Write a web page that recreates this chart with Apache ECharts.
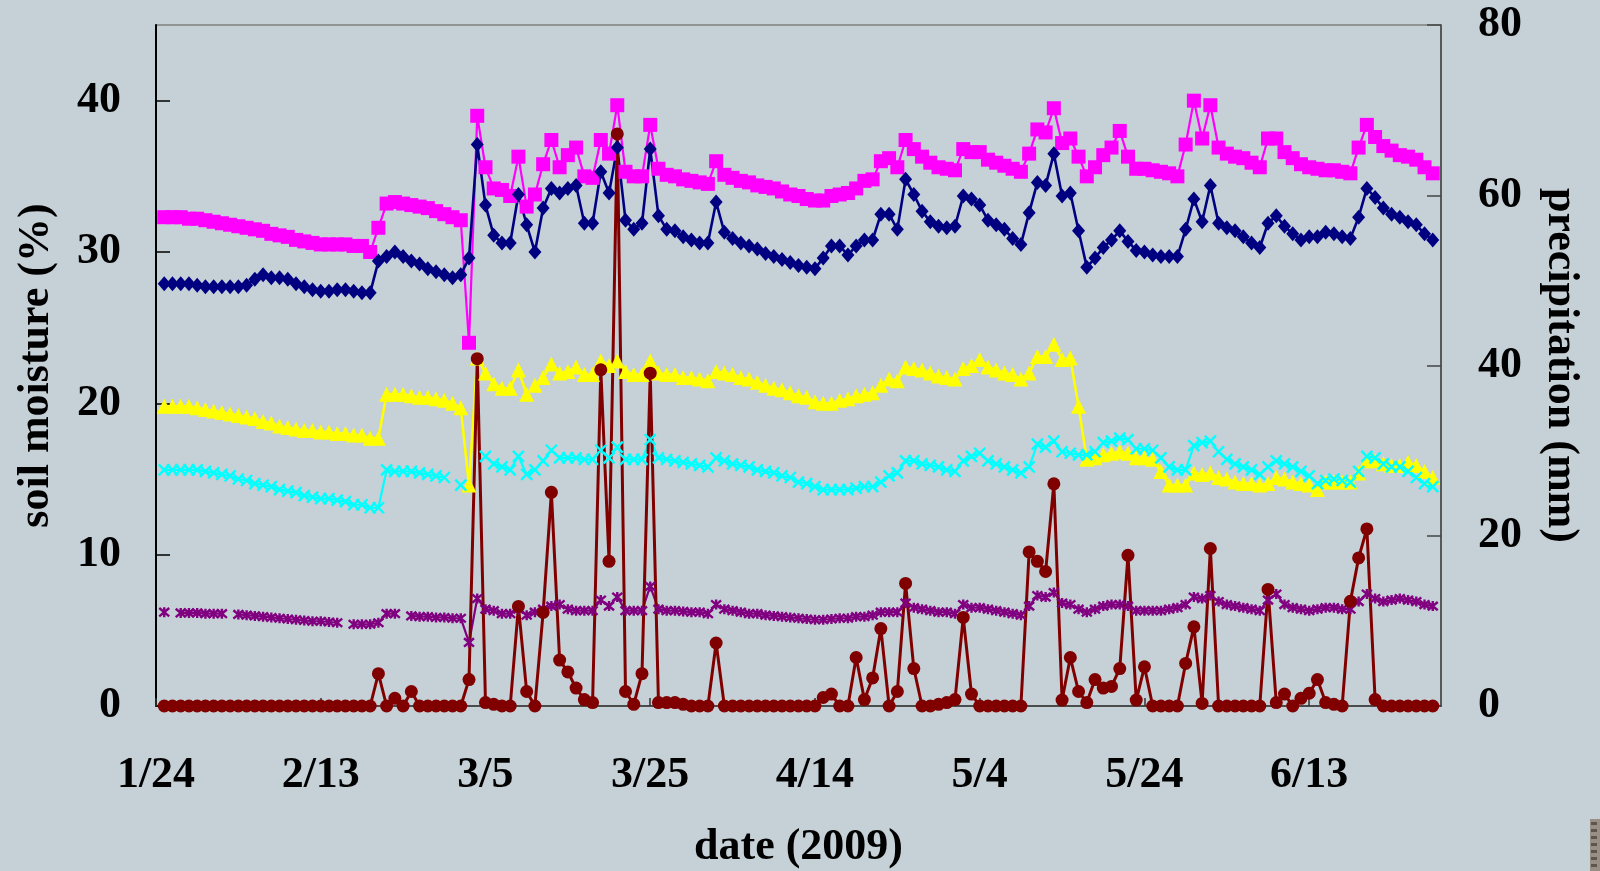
<!DOCTYPE html>
<html>
<head>
<meta charset="utf-8">
<title>Soil moisture and precipitation, 2009</title>
<script src="https://cdn.jsdelivr.net/npm/echarts@6/dist/echarts.min.js"></script>
<style>
  html, body { margin: 0; padding: 0; background: #c5d0d7; }
  #chart { width: 1600px; height: 871px; }
</style>
</head>
<body>
<div id="chart"></div>
<script>
// Daily readings from 1/25 to 6/28 (2009); the date axis runs 1/24 .. 6/29.
const axisStart = [2009, 0, 24];
const axisDays = 157;

// soil moisture (%), five sensors
const moistureA = [ // magenta squares
  32.3, 32.3, 32.3, 32.2, 32.2, 32.1, 32.0, 31.9, 31.8, 31.7,
  31.6, 31.5, 31.4, 31.2, 31.1, 31.0, 30.8, 30.7, 30.6, 30.5,
  30.5, 30.5, 30.5, 30.4, 30.4, 30.0, 31.6, 33.2, 33.3, 33.2,
  33.1, 33.0, 32.9, 32.7, 32.5, 32.3, 32.1, 24.0, 39.0, 35.6,
  34.2, 34.1, 33.7, 36.3, 33.0, 33.8, 35.8, 37.4, 35.6, 36.4,
  36.9, 35.0, 34.9, 37.4, 36.5, 39.7, 35.3, 35.0, 35.0, 38.4,
  35.5, 35.1, 35.0, 34.8, 34.7, 34.6, 34.5, 36.0, 35.1, 34.9,
  34.7, 34.6, 34.4, 34.3, 34.2, 34.0, 33.8, 33.7, 33.5, 33.4,
  33.4, 33.7, 33.8, 33.9, 34.2, 34.7, 34.8, 36.0, 36.2, 35.6,
  37.4, 36.8, 36.3, 35.9, 35.6, 35.5, 35.4, 36.8, 36.6, 36.6,
  36.1, 35.9, 35.7, 35.5, 35.3, 36.5, 38.1, 37.9, 39.5, 37.2,
  37.5, 36.3, 35.0, 35.6, 36.4, 36.9, 38.0, 36.3, 35.5, 35.5,
  35.4, 35.3, 35.2, 35.0, 37.1, 40.0, 37.5, 39.7, 36.9, 36.5,
  36.3, 36.2, 35.9, 35.6, 37.5, 37.5, 36.6, 36.2, 35.8, 35.6,
  35.5, 35.4, 35.4, 35.3, 35.2, 36.9, 38.4, 37.6, 37.0, 36.7,
  36.4, 36.3, 36.1, 35.6, 35.2
];
const moistureB = [ // navy diamonds
  27.9, 27.9, 27.9, 27.9, 27.8, 27.7, 27.7, 27.7, 27.7, 27.7,
  27.8, 28.2, 28.5, 28.3, 28.3, 28.2, 27.9, 27.7, 27.5, 27.4,
  27.4, 27.5, 27.5, 27.4, 27.3, 27.3, 29.4, 29.7, 30.0, 29.7,
  29.4, 29.2, 28.9, 28.7, 28.5, 28.3, 28.5, 29.6, 37.1, 33.1,
  31.1, 30.6, 30.6, 33.8, 31.8, 30.0, 32.9, 34.2, 33.9, 34.2,
  34.4, 31.9, 31.9, 35.3, 33.9, 36.9, 32.1, 31.5, 31.9, 36.8,
  32.4, 31.5, 31.4, 31.0, 30.8, 30.6, 30.6, 33.3, 31.3, 30.9,
  30.6, 30.4, 30.2, 29.9, 29.7, 29.5, 29.3, 29.1, 29.0, 28.9,
  29.6, 30.4, 30.4, 29.8, 30.4, 30.8, 30.8, 32.5, 32.5, 31.5,
  34.8, 33.8, 32.7, 32.0, 31.7, 31.6, 31.7, 33.7, 33.5, 33.1,
  32.1, 31.8, 31.5, 30.9, 30.5, 32.6, 34.6, 34.4, 36.5, 33.7,
  33.9, 31.4, 29.0, 29.6, 30.3, 30.8, 31.4, 30.7, 30.1, 30.0,
  29.8, 29.7, 29.7, 29.7, 31.5, 33.5, 32.0, 34.4, 31.9, 31.6,
  31.4, 31.0, 30.6, 30.3, 31.9, 32.4, 31.7, 31.2, 30.8, 31.0,
  31.0, 31.3, 31.2, 31.0, 30.9, 32.3, 34.2, 33.6, 32.9, 32.5,
  32.3, 32.0, 31.8, 31.2, 30.8
];
const moistureC = [ // yellow triangles
  19.8, 19.8, 19.8, 19.8, 19.7, 19.6, 19.5, 19.4, 19.3, 19.2,
  19.1, 19.0, 18.8, 18.7, 18.5, 18.4, 18.3, 18.2, 18.2, 18.1,
  18.1, 18.0, 18.0, 17.9, 17.9, 17.7, 17.7, 20.6, 20.6, 20.6,
  20.5, 20.4, 20.4, 20.3, 20.2, 20.0, 19.7, 14.6, 23.0, 22.0,
  21.3, 21.0, 21.0, 22.2, 20.6, 21.2, 21.7, 22.6, 22.0, 22.1,
  22.4, 21.9, 21.9, 22.8, 22.5, 22.8, 22.1, 21.9, 21.9, 22.8,
  22.0, 21.9, 21.9, 21.7, 21.7, 21.6, 21.5, 22.1, 22.0, 21.9,
  21.7, 21.6, 21.4, 21.2, 21.0, 20.9, 20.7, 20.5, 20.4, 20.1,
  20.0, 20.0, 20.2, 20.3, 20.5, 20.6, 20.7, 21.2, 21.6, 21.5,
  22.4, 22.3, 22.2, 22.0, 21.8, 21.7, 21.6, 22.3, 22.5, 22.9,
  22.4, 22.2, 22.0, 21.9, 21.6, 22.0, 23.1, 23.1, 23.9, 22.9,
  23.0, 19.8, 16.3, 16.4, 16.6, 16.7, 16.8, 16.7, 16.4, 16.4,
  16.3, 15.5, 14.6, 14.6, 14.6, 15.4, 15.3, 15.4, 15.1, 15.0,
  14.8, 14.7, 14.7, 14.6, 14.7, 15.1, 15.0, 14.8, 14.7, 14.6,
  14.3, 14.8, 14.8, 14.8, 14.8, 15.4, 16.2, 16.2, 16.0, 15.9,
  15.9, 16.1, 15.9, 15.5, 15.1
];
const moistureD = [ // cyan crosses
  15.6, 15.6, 15.6, 15.6, 15.6, 15.5, 15.4, 15.3, 15.2, 15.0,
  14.9, 14.7, 14.6, 14.5, 14.3, 14.2, 14.1, 13.9, 13.8, 13.7,
  13.7, 13.6, 13.5, 13.3, 13.3, 13.1, 13.1, 15.6, 15.5, 15.5,
  15.5, 15.4, 15.3, 15.2, 15.1, null, 14.6, null, null, 16.5,
  16.0, 15.8, 15.6, 16.5, 15.3, 15.6, 16.2, 16.9, 16.4, 16.4,
  16.4, 16.3, 16.3, 16.9, 16.4, 17.1, 16.3, 16.3, 16.3, 17.6,
  16.4, 16.3, 16.2, 16.1, 16.0, 15.9, 15.8, 16.4, 16.2, 16.0,
  15.9, 15.8, 15.6, 15.5, 15.4, 15.2, 15.1, 14.8, 14.7, 14.5,
  14.3, 14.3, 14.3, 14.3, 14.4, 14.5, 14.5, 14.8, 15.2, 15.4,
  16.2, 16.2, 16.0, 15.9, 15.8, 15.6, 15.5, 16.2, 16.5, 16.7,
  16.2, 16.0, 15.8, 15.6, 15.4, 15.8, 17.3, 17.1, 17.5, 16.8,
  16.7, 16.6, 16.6, 16.8, 17.4, 17.5, 17.7, 17.6, 17.0, 17.0,
  16.9, 16.4, 15.8, 15.6, 15.6, 17.2, 17.4, 17.5, 16.8, 16.3,
  16.0, 15.8, 15.6, 15.3, 15.8, 16.2, 16.0, 15.8, 15.5, 15.2,
  14.7, 14.9, 15.0, 14.9, 14.8, 15.5, 16.5, 16.4, 16.0, 15.8,
  15.8, 15.5, 15.1, 14.7, 14.5
];
const moistureE = [ // purple asterisks
  6.2, null, 6.15, 6.15, 6.15, 6.1, 6.1, 6.1, null, 6.05,
  6.0, 5.95, 5.9, 5.85, 5.8, 5.75, 5.7, 5.65, 5.6, 5.6,
  5.55, 5.5, null, 5.4, 5.4, 5.4, 5.5, 6.1, 6.1, null,
  5.95, 5.9, 5.9, 5.85, 5.85, 5.8, 5.8, 4.2, 7.1, 6.4,
  6.3, 6.1, 6.1, 6.4, 6.0, 6.2, 6.4, 6.6, 6.7, 6.4,
  6.3, 6.3, 6.3, 7.0, 6.6, 7.2, 6.3, 6.3, 6.3, 7.9,
  6.4, 6.3, 6.3, 6.25, 6.2, 6.2, 6.1, 6.7, 6.4, 6.3,
  6.2, 6.1, 6.1, 6.0, 5.95, 5.9, 5.85, 5.8, 5.75, 5.7,
  5.7, 5.75, 5.8, 5.8, 5.9, 5.9, 6.0, 6.2, 6.2, 6.2,
  6.8, 6.5, 6.4, 6.3, 6.2, 6.2, 6.1, 6.7, 6.5, 6.5,
  6.4, 6.3, 6.2, 6.1, 6.0, 6.6, 7.3, 7.2, 7.5, 6.8,
  6.7, 6.4, 6.2, 6.4, 6.6, 6.7, 6.7, 6.6, 6.3, 6.3,
  6.3, 6.3, 6.4, 6.5, 6.7, 7.2, 7.1, 7.3, 6.9, 6.7,
  6.6, 6.5, 6.4, 6.3, 7.0, 7.4, 6.7, 6.5, 6.4, 6.3,
  6.4, 6.5, 6.5, 6.4, 6.4, 6.9, 7.4, 7.1, 6.9, 7.0,
  7.1, 7.0, 6.9, 6.7, 6.6
];

// precipitation (mm), right axis
const precipitation = [
  0, 0, 0, 0, 0, 0, 0, 0, 0, 0,
  0, 0, 0, 0, 0, 0, 0, 0, 0, 0,
  0, 0, 0, 0, 0, 0, 3.8, 0, 0.9, 0,
  1.7, 0, 0, 0, 0, 0, 0, 3.1, 40.8, 0.4,
  0.2, 0, 0, 11.7, 1.7, 0, 11.0, 25.1, 5.4, 4.0,
  2.1, 0.75, 0.4, 39.5, 17.0, 67.2, 1.7, 0.2, 3.8, 39.1,
  0.4, 0.4, 0.4, 0.2, 0, 0, 0, 7.4, 0, 0,
  0, 0, 0, 0, 0, 0, 0, 0, 0, 0,
  1.0, 1.4, 0, 0, 5.7, 0.75, 3.3, 9.1, 0, 1.7,
  14.4, 4.4, 0, 0, 0.2, 0.4, 0.75, 10.4, 1.4, 0,
  0, 0, 0, 0, 0, 18.1, 17.0, 15.8, 26.1, 0.7,
  5.7, 1.7, 0.4, 3.1, 2.1, 2.3, 4.4, 17.7, 0.7, 4.6,
  0, 0, 0, 0, 5.0, 9.3, 0.3, 18.5, 0, 0,
  0, 0, 0, 0, 13.7, 0.4, 1.4, 0, 0.9, 1.5,
  3.1, 0.4, 0.2, 0, 12.3, 17.4, 20.8, 0.75, 0, 0,
  0, 0, 0, 0, 0
];

const moistureTicks = [0, 10, 20, 30, 40];
const precipTicks = [0, 20, 40, 60, 80];

// category labels m/d for every day on the axis
const dates = [];
for (let i = 0; i < axisDays; i++) {
  const d = new Date(axisStart[0], axisStart[1], axisStart[2] + i);
  dates.push((d.getMonth() + 1) + '/' + d.getDate());
}
// readings start one day after the axis origin and stop one day before its end
const onAxis = arr => [null].concat(arr, [null]);

const FONT = 'Liberation Serif, Times New Roman, serif';
const textStyle = { fontFamily: FONT, fontWeight: 'bold', fontSize: 44, color: '#000' };

const CROSS = 'path://M0,0L10,10M10,0L0,10';
const STAR = 'path://M0,0L10,10M10,0L0,10M5,-1L5,11';

function moistureSeries(name, data, color, symbol, size, lineWidth, stroked) {
  return {
    name, type: 'line', yAxisIndex: 0, data: onAxis(data),
    symbol, symbolSize: size, showAllSymbol: true,
    connectNulls: false,
    lineStyle: { color, width: lineWidth },
    itemStyle: stroked
      ? { color, borderColor: color, borderWidth: 2.4 }
      : { color, borderWidth: 0 },
    emphasis: { disabled: true }
  };
}

const chart = echarts.init(document.getElementById('chart'), null, { renderer: 'canvas' });
chart.setOption({
  backgroundColor: '#c5d0d7',
  animation: false,
  grid: {
    left: 156, right: 159, top: 25, bottom: 165,
    containLabel: false, outerBoundsMode: 'none',
    show: true, borderColor: '#808080', borderWidth: 1.5, backgroundColor: 'transparent'
  },
  xAxis: {
    type: 'category', data: dates, boundaryGap: false,
    name: 'date (2009)', nameLocation: 'middle', nameGap: 120,
    nameTextStyle: textStyle,
    axisLine: { lineStyle: { color: '#333', width: 1.5 } },
    axisTick: { inside: true, length: 8, interval: 19, lineStyle: { color: '#333', width: 1.5 } },
    axisLabel: Object.assign({ interval: 19, margin: 48 }, textStyle),
    splitLine: { show: false }
  },
  yAxis: [
    {
      type: 'value', min: 0, max: 45, position: 'left',
      name: 'soil moisture (%)', nameLocation: 'middle', nameGap: 97,
      nameTextStyle: textStyle,
      axisLine: { show: true, lineStyle: { color: '#000', width: 2 } },
      axisTick: { show: true, inside: true, length: 14, customValues: moistureTicks,
                  lineStyle: { color: '#000', width: 1.5 } },
      axisLabel: Object.assign({ margin: 35, customValues: moistureTicks }, textStyle),
      splitLine: { show: false }
    },
    {
      type: 'value', min: 0, max: 80, interval: 20, position: 'right',
      name: 'precipitation (mm)', nameLocation: 'middle', nameGap: 97, nameRotate: -90,
      nameTextStyle: textStyle,
      axisLine: { show: true, lineStyle: { color: '#444', width: 1.5 } },
      axisTick: { show: true, inside: true, length: 14, customValues: precipTicks,
                  lineStyle: { color: '#444', width: 1.5 } },
      axisLabel: Object.assign({ margin: 37, customValues: precipTicks }, textStyle),
      splitLine: { show: false }
    }
  ],
  series: [
    moistureSeries('A', moistureA, '#ff00ff', 'rect', 14, 2.2, false),
    moistureSeries('B', moistureB, '#000080', 'diamond', [13, 15], 2.6, false),
    moistureSeries('C', moistureC, '#ffff00', 'triangle', 15, 2.6, false),
    moistureSeries('D', moistureD, '#00ffff', CROSS, 11, 2.2, true),
    moistureSeries('E', moistureE, '#800080', STAR, 10, 2.2, true),
    {
      name: 'precipitation', type: 'line', yAxisIndex: 1, data: onAxis(precipitation),
      symbol: 'circle', symbolSize: 13, showAllSymbol: true,
      lineStyle: { color: '#800000', width: 3 },
      itemStyle: { color: '#800000', borderWidth: 0 },
      emphasis: { disabled: true }
    }
  ],
  graphic: [
    { type: 'rect', left: 1590, top: 819, shape: { width: 10, height: 52 },
      style: { fill: '#9a8f85' }, silent: true },
    { type: 'group', left: 1591, top: 822, silent: true, children: [0, 1, 2, 3, 4, 5, 6].map(k => ({
      type: 'rect', shape: { x: 0, y: k * 7, width: 6, height: 3 }, style: { fill: '#5e554e' }
    })) }
  ]
});
</script>
</body>
</html>
